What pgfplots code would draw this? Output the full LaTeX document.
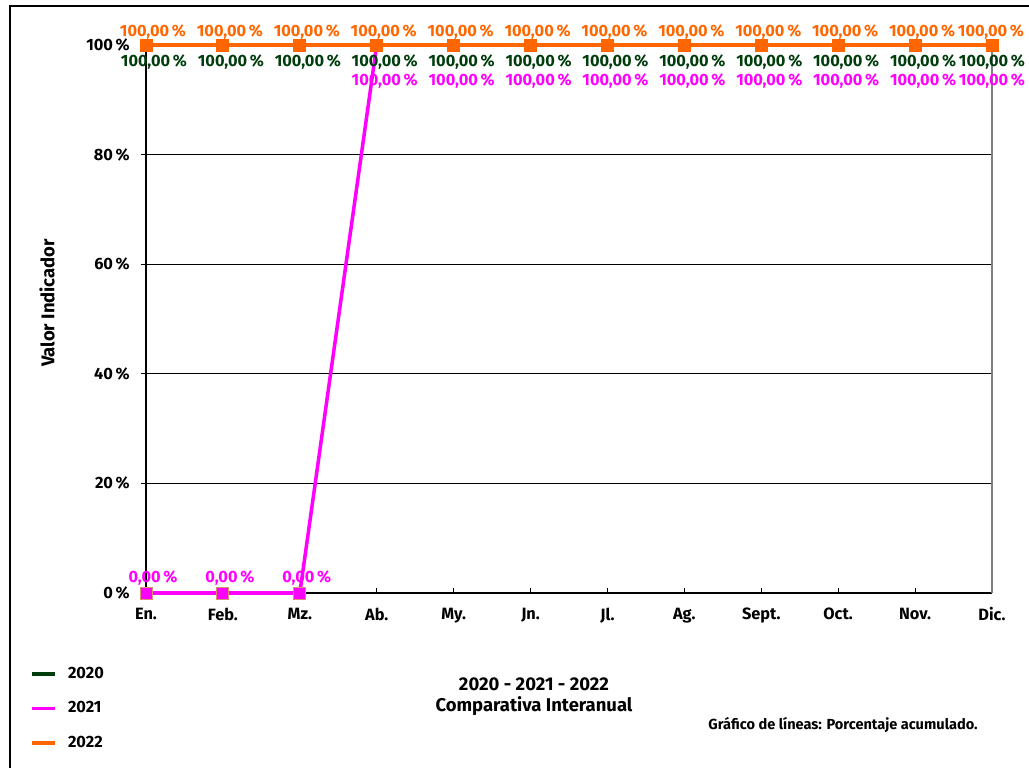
\documentclass[border=0pt]{standalone}
\usepackage{pgfplots}
\pgfplotsset{compat=1.18}
\usepackage{fontspec}
\setmainfont{Fira Sans}

\definecolor{verde}{HTML}{003D0C}
\definecolor{rosa}{HTML}{FF00FF}
\definecolor{naranja}{HTML}{FF6600}
\definecolor{borde}{HTML}{D99070}

\newcommand{\fnum}{\fontsize{9.3}{11}\selectfont\bfseries}
\newcommand{\ftit}{\fontsize{10.5}{12.5}\selectfont\bfseries}

\begin{document}
\begin{tikzpicture}[font=\fnum]
\useasboundingbox (0,0) rectangle (20.58,15.36);
% marco del grafico (solo se ven los lados superior e izquierdo)
\draw[line width=0.6pt] (0.2,-0.5) -- (0.2,15.24) -- (21,15.24);

\begin{axis}[
  at={(2.92cm,3.5cm)}, anchor=south west,
  scale only axis, width=16.92cm, height=10.96cm,
  xmin=0, xmax=11, ymin=0, ymax=100,
  clip=false,
  axis x line*=bottom, axis y line*=left,
  axis line style={-, line width=1.2pt, black},
  xtick={0,...,11},
  xticklabels={En.,Feb.,Mz.,Ab.,My.,Jn.,Jl.,Ag.,Sept.,Oct.,Nov.,Dic.},
  ytick={0,20,...,100},
  yticklabel={\pgfmathprintnumber[fixed,precision=0]{\tick}\,\%},
  /pgf/number format/assume math mode=true,
  xtick align=inside, ytick align=outside,
  major tick length=0.1cm,
  tick style={black, line width=0.6pt},
  ymajorgrids, grid style={black, line width=0.6pt},
  xticklabel style={yshift=-0.17cm},
  yticklabel style={xshift=-0.1cm},
  legend style={at={(-0.137,-0.128)}, anchor=north west, draw=none, fill=none,
    inner sep=0pt, row sep=0.27cm, cells={anchor=west}, font=\fnum,
    /tikz/every odd column/.append style={column sep=0.14cm}},
  legend image code/.code={\draw[#1] (0cm,0cm) -- (0.46cm,0cm);},
]

% 2020
\addplot[verde, line width=2pt, mark=square*, mark size=3.2pt,
  mark options={line width=0.4pt}] coordinates {
  (0,100) (1,100) (2,100) (3,100) (4,100) (5,100)
  (6,100) (7,100) (8,100) (9,100) (10,100) (11,100)
};
\addlegendentry{2020}

% 2021
\addplot[rosa, line width=2pt, mark=square*, mark size=3.4pt,
  mark options={fill=rosa, draw=borde, line width=0.5pt}] coordinates {
  (0,0) (1,0) (2,0) (3,100) (4,100) (5,100)
  (6,100) (7,100) (8,100) (9,100) (10,100) (11,100)
};
\addlegendentry{2021}

% 2022
\addplot[naranja, line width=2.3pt, mark=square*, mark size=3.4pt,
  mark options={line width=0.5pt}] coordinates {
  (0,100) (1,100) (2,100) (3,100) (4,100) (5,100)
  (6,100) (7,100) (8,100) (9,100) (10,100) (11,100)
};
\addlegendentry{2022}

% etiquetas de datos
\pgfplotsset{etiq/.style={draw=none, forget plot,
  nodes near coords={\pgfmathprintnumber[fixed,fixed zerofill,precision=2,use comma]{\pgfplotspointmeta}\,\%},
  coordinate style/.condition={x==11}{xshift=-0.16cm}}}
\addplot[etiq,
  every node near coord/.style={text=verde, anchor=center, xshift=0.16cm, yshift=-0.34cm}]
  coordinates {
  (0,100) (1,100) (2,100) (3,100) (4,100) (5,100)
  (6,100) (7,100) (8,100) (9,100) (10,100) (11,100)
};
\addplot[etiq,
  every node near coord/.style={text=rosa, anchor=center, xshift=0.14cm, yshift=0.30cm}]
  coordinates {(0,0) (1,0) (2,0)};
\addplot[etiq,
  every node near coord/.style={text=rosa, anchor=center, xshift=0.16cm, yshift=-0.72cm}]
  coordinates {
  (3,100) (4,100) (5,100) (6,100) (7,100) (8,100) (9,100) (10,100) (11,100)
};
\addplot[etiq,
  every node near coord/.style={text=naranja, anchor=center, xshift=0.14cm, yshift=0.25cm}]
  coordinates {
  (0,100) (1,100) (2,100) (3,100) (4,100) (5,100)
  (6,100) (7,100) (8,100) (9,100) (10,100) (11,100)
};

\draw[gray, line width=0.6pt] (rel axis cs:1,0) -- (rel axis cs:1,1);
\end{axis}

\node[rotate=90, font=\ftit] at (0.94,9.3) {Valor Indicador};
\node[font=\ftit] at (10.68,1.68) {2020 - 2021 - 2022};
\node[font=\ftit] at (10.68,1.24) {Comparativa Interanual};
\node[font=\fontsize{8.3}{10}\selectfont\bfseries] at (16.86,0.86) {Gráfico de líneas: Porcentaje acumulado.};
\end{tikzpicture}
\end{document}
